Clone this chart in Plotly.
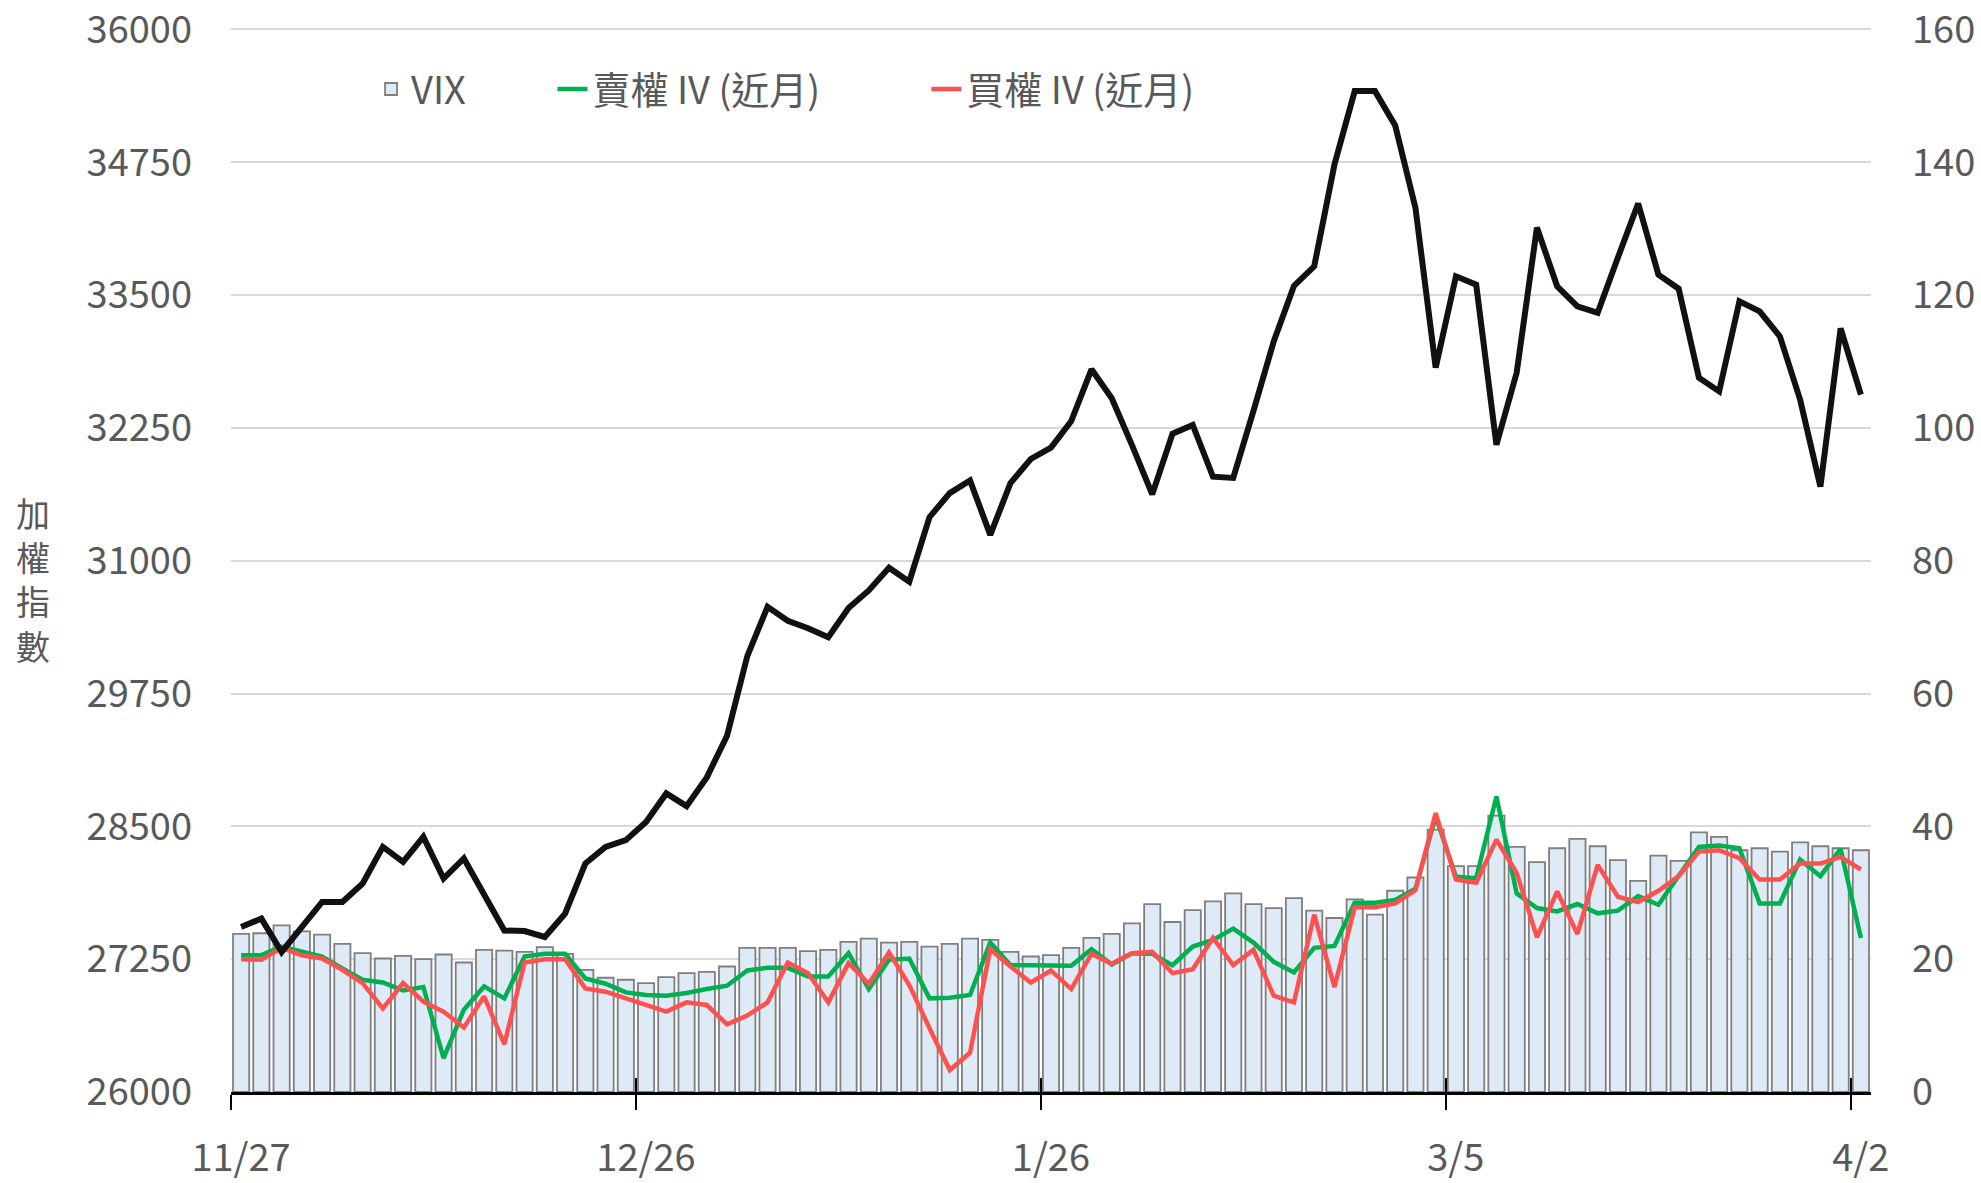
import plotly.graph_objects as go

# ---- data ----
tick_labels = ["11/27", "12/26", "1/26", "3/5", "4/2"]
tick_index = [0, 20, 40, 60, 80]

taiex = [27553, 27632, 27318, 27553, 27789, 27789, 27962, 28307, 28166, 28401,
         28009, 28198, 27852, 27520, 27515, 27459, 27679, 28150, 28307, 28370,
         28542, 28810, 28690, 28961, 29353, 30102, 30566, 30435, 30364, 30280,
         30554, 30720, 30934, 30803, 31410, 31636, 31755, 31243, 31731, 31957,
         32064, 32314, 32801, 32528, 32088, 31624, 32195, 32278, 31790, 31779,
         32409, 33063, 33586, 33770, 34728, 35419, 35419, 35096, 34322, 32816,
         33676, 33598, 32091, 32769, 34135, 33582, 33394, 33333, 33853, 34361,
         33692, 33560, 32722, 32593, 33441, 33347, 33111, 32515, 31698, 33185,
         32562]

vix = [23.8, 23.9, 25.1, 24.2, 23.7, 22.3, 20.9, 20.1, 20.5, 20.0,
       20.7, 19.5, 21.4, 21.3, 21.1, 21.8, 20.8, 18.4, 17.2, 16.9,
       16.4, 17.3, 17.9, 18.1, 18.9, 21.7, 21.7, 21.7, 21.2, 21.4,
       22.6, 23.1, 22.5, 22.6, 21.9, 22.3, 23.1, 22.9, 21.1, 20.4,
       20.6, 21.7, 23.2, 23.8, 25.4, 28.3, 25.6, 27.4, 28.7, 29.9,
       28.3, 27.7, 29.2, 27.3, 26.2, 29.0, 26.7, 30.3, 32.3, 39.5,
       34.0, 34.0, 41.6, 36.9, 34.6, 36.7, 38.1, 37.0, 34.9, 31.8,
       35.6, 34.8, 39.1, 38.4, 36.4, 36.7, 36.2, 37.6, 37.0, 36.7,
       36.4]

put_iv = [20.6, 20.6, 21.9, 21.2, 20.4, 18.6, 16.9, 16.5, 15.3, 15.8,
          5.1, 12.4, 15.9, 14.1, 20.4, 20.8, 20.8, 17.1, 16.3, 15.0,
          14.6, 14.5, 14.9, 15.5, 16.0, 18.3, 18.7, 18.7, 17.4, 17.4,
          20.9, 15.5, 19.9, 20.1, 14.1, 14.2, 14.6, 22.5, 19.1, 19.1,
          19.1, 19.0, 21.5, 19.2, 20.9, 20.8, 19.1, 21.9, 22.9, 24.6,
          22.5, 19.6, 18.0, 21.7, 22.0, 28.5, 28.5, 28.9, 30.6, 41.5,
          32.4, 32.2, 44.5, 29.9, 27.7, 27.2, 28.3, 26.9, 27.3, 29.5,
          28.2, 32.5, 36.9, 37.1, 36.7, 28.4, 28.4, 35.0, 32.5, 36.6,
          23.2]

call_iv = [20.0, 19.9, 21.7, 20.6, 20.1, 18.4, 16.4, 12.6, 16.4, 13.6,
           12.1, 9.7, 14.4, 7.2, 19.5, 20.0, 20.0, 15.6, 15.1, 14.1,
           13.0, 12.1, 13.5, 13.1, 10.2, 11.5, 13.5, 19.5, 17.9, 13.5,
           19.4, 16.3, 21.0, 16.1, 9.6, 3.3, 5.9, 21.5, 18.9, 16.5,
           18.3, 15.5, 20.8, 19.3, 20.9, 21.1, 17.9, 18.5, 23.2, 19.1,
           21.4, 14.5, 13.5, 26.7, 15.8, 27.8, 27.8, 28.4, 30.4, 42.0,
           32.0, 31.5, 38.0, 33.0, 23.3, 30.2, 23.8, 34.2, 29.4, 28.6,
           30.3, 32.5, 36.2, 36.4, 35.2, 32.0, 32.0, 34.4, 34.4, 35.4,
           33.5]

left_ticks = [26000, 27250, 28500, 29750, 31000, 32250, 33500, 34750, 36000]
right_ticks = [0, 20, 40, 60, 80, 100, 120, 140, 160]

n = len(taiex)
x = list(range(n))
xr = [-0.5, n - 0.5]
boundary_ticks = [i - 0.5 for i in tick_index]

# small headroom at the top so the top gridline is not clipped at the range edge
pad = 0.006
r_lo, r_hi = right_ticks[0], right_ticks[-1]
l_lo, l_hi = left_ticks[0], left_ticks[-1]
yr_right = [r_lo, r_hi + (r_hi - r_lo) * pad]
yr_left = [l_lo, l_hi + (l_hi - l_lo) * pad]

FONT = "Noto Sans CJK TC, Noto Sans, sans-serif"
GRAY = "#595959"

fig = go.Figure()
fig.add_trace(go.Bar(
    x=x, y=vix, name="VIX",
    marker=dict(color="#DEEAF6", line=dict(color="#7F7F7F", width=1.8)),
    xaxis="x", yaxis="y", legend="legend"))
fig.add_trace(go.Scatter(
    x=x, y=put_iv, name="賣權 IV (近月)", mode="lines",
    line=dict(color="#00B050", width=4.5),
    xaxis="x", yaxis="y", legend="legend2"))
fig.add_trace(go.Scatter(
    x=x, y=call_iv, name="買權 IV (近月)", mode="lines",
    line=dict(color="#FF5050", width=4.5),
    xaxis="x", yaxis="y", legend="legend3"))
fig.add_trace(go.Scatter(
    x=x, y=taiex, name="加權指數", mode="lines",
    line=dict(color="#111111", width=6),
    xaxis="x2", yaxis="y2", showlegend=False))

leg_common = dict(orientation="h", yanchor="middle", y=0.938, xanchor="left",
                  bgcolor="rgba(0,0,0,0)", font=dict(family=FONT, size=38, color=GRAY))

H = 1183
plot_h = 1092 - 29
extra = plot_h * pad / (1 + pad)

fig.update_layout(
    width=1981, height=H,
    margin=dict(l=231, r=110, t=int(round(29 - extra)), b=H - 1092, autoexpand=False),
    plot_bgcolor="white", paper_bgcolor="white",
    bargap=0.2,
    font=dict(family=FONT, size=38, color=GRAY),
    legend=dict(x=0.0854, **leg_common),
    legend2=dict(x=0.196, **leg_common),
    legend3=dict(x=0.424, **leg_common),
    xaxis=dict(range=xr, tickmode="array", tickvals=boundary_ticks, ticktext=tick_labels,
               ticks="outside", ticklen=15, tickwidth=2, tickcolor="black",
               showline=True, linecolor="black", linewidth=2.5, automargin=False,
               showgrid=False, zeroline=False, ticklabelshift=10, ticklabelstandoff=16,
               ticklabeloverflow="allow",
               tickfont=dict(family=FONT, size=38, color=GRAY)),
    xaxis2=dict(range=xr, overlaying="x", anchor="y2", side="bottom", automargin=False,
                tickmode="array", tickvals=boundary_ticks, ticks="inside", ticklen=14,
                tickwidth=2, tickcolor="black", showticklabels=False,
                showline=False, showgrid=False, zeroline=False),
    yaxis=dict(side="right", range=yr_right, tickmode="array", tickvals=right_ticks,
               showgrid=True, gridcolor="#D9D9D9", gridwidth=2, automargin=False,
               zeroline=False, showline=False, ticks="", ticklabelstandoff=40,
               ticklabeloverflow="allow",
               tickfont=dict(family=FONT, size=38, color=GRAY)),
    yaxis2=dict(side="left", overlaying="y", range=yr_left, automargin=False,
                tickmode="array", tickvals=left_ticks, tickformat="d",
                showgrid=False, zeroline=False, showline=False, ticks="",
                ticklabelstandoff=38, ticklabeloverflow="allow",
                tickfont=dict(family=FONT, size=38, color=GRAY)),
    annotations=[dict(text="加<br>權<br>指<br>數", xref="paper", yref="paper",
                      x=-0.121, y=0.48, xanchor="center", yanchor="middle",
                      showarrow=False, font=dict(family=FONT, size=34, color=GRAY))],
)

fig.write_html("out.html",
               config={"displayModeBar": False, "responsive": False},
               post_script="document.body.style.margin='0';document.body.style.overflow='hidden';")
